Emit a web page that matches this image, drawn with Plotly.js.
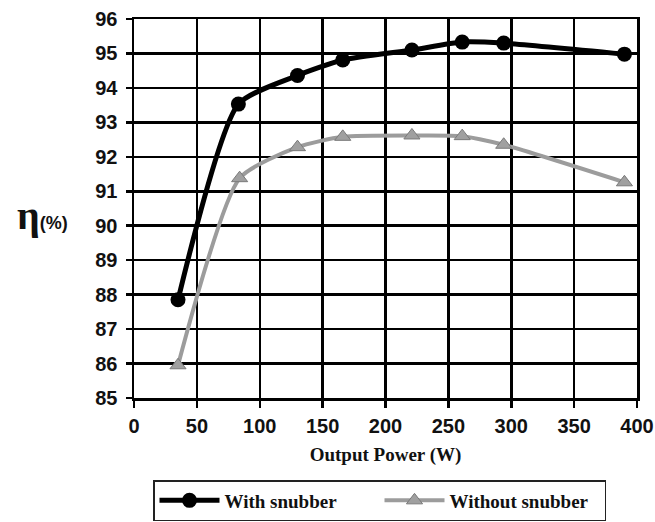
<!DOCTYPE html>
<html>
<head>
<meta charset="utf-8">
<script src="https://cdn.plot.ly/plotly-3.0.1.min.js"></script>
<style>html,body{margin:0;padding:0;background:#fff;}#chart{width:655px;height:522px;}</style>
</head>
<body>
<div id="chart"></div>
<script>
// Data
const powerWith = [35, 83, 130, 166, 221, 261, 294, 390];
const etaWith = [87.85, 93.53, 94.36, 94.81, 95.10, 95.33, 95.30, 94.98];
const powerWithout = [35, 84, 130, 166, 221, 261, 294, 390];
const etaWithout = [85.95, 91.38, 92.28, 92.58, 92.62, 92.60, 92.35, 91.26];
const seriesNames = ["With snubber", "Without snubber"];
const xTicks = [0, 50, 100, 150, 200, 250, 300, 350, 400];
const yTicks = [85, 86, 87, 88, 89, 90, 91, 92, 93, 94, 95, 96];

const W = 655, H = 522;
const mL = 134, mR = 18, mT = 19, mB = 124;
const pw = W - mL - mR, ph = H - mT - mB;

const traces = [
  {
    x: powerWith, y: etaWith, name: seriesNames[0], type: 'scatter', mode: 'lines+markers',
    line: {color: '#000', width: 5, shape: 'spline', smoothing: 0.6},
    marker: {symbol: 'circle', size: 15, color: '#000'}
  },
  {
    x: powerWithout, y: etaWithout, name: seriesNames[1], type: 'scatter', mode: 'lines+markers',
    line: {color: '#9c9c9c', width: 4, shape: 'spline', smoothing: 0.6},
    marker: {symbol: 'triangle-up', size: 14, color: '#a0a0a0', line: {color: '#7a7a7a', width: 1}}
  }
];

const tickFont = {family: 'Liberation Sans, Arial, sans-serif', size: 20, color: '#111', weight: 'bold'};

const layout = {
  width: W, height: H,
  margin: {l: mL, r: mR, t: mT, b: mB, pad: 0, autoexpand: false},
  paper_bgcolor: '#fff', plot_bgcolor: '#fff',
  showlegend: true,
  xaxis: {
    range: [0, 400], tickvals: xTicks, ticktext: xTicks.map(String),
    showgrid: true, gridcolor: '#000', gridwidth: 2.5,
    showline: true, linecolor: '#000', linewidth: 2.5, mirror: true,
    ticks: 'outside', ticklen: 7, tickwidth: 2.5, tickcolor: '#000',
    tickfont: tickFont, zeroline: false, ticklabelstandoff: 1,
    title: {text: 'Output Power (W)', font: {family: 'Liberation Serif, Times New Roman, serif', size: 19, color: '#111', weight: 'bold'}, standoff: 12}
  },
  yaxis: {
    range: [85, 96], tickvals: yTicks, ticktext: yTicks.map(String),
    showgrid: true, gridcolor: '#000', gridwidth: 2.5,
    showline: true, linecolor: '#000', linewidth: 2.5, mirror: true,
    ticks: 'outside', ticklen: 6, tickwidth: 2.5, tickcolor: '#000',
    tickfont: tickFont, zeroline: false, ticklabelstandoff: 4
  },
  legend: {
    orientation: 'h', x: (153 - mL) / pw, xanchor: 'left', y: -(480 - (mT + ph)) / ph, yanchor: 'top',
    bordercolor: '#222', borderwidth: 1.5, bgcolor: '#fff',
    font: {family: 'Liberation Serif, Times New Roman, serif', size: 19, color: '#111', weight: 'bold'},
    entrywidth: 150, itemwidth: 60
  },
  annotations: [{
    xref: 'paper', yref: 'paper', x: (42 - mL) / pw, y: ((mT + ph) - 215) / ph,
    xanchor: 'center', yanchor: 'middle', showarrow: false,
    text: '<b><span style="font-size:40px;font-family:Liberation Serif, serif;">η</span><span style="font-size:18px;font-family:Liberation Sans, Arial, sans-serif;">(%)</span></b>',
    font: {color: '#111'}
  }]
};

Plotly.newPlot('chart', traces, layout, {displayModeBar: false, staticPlot: true});
</script>
</body>
</html>
